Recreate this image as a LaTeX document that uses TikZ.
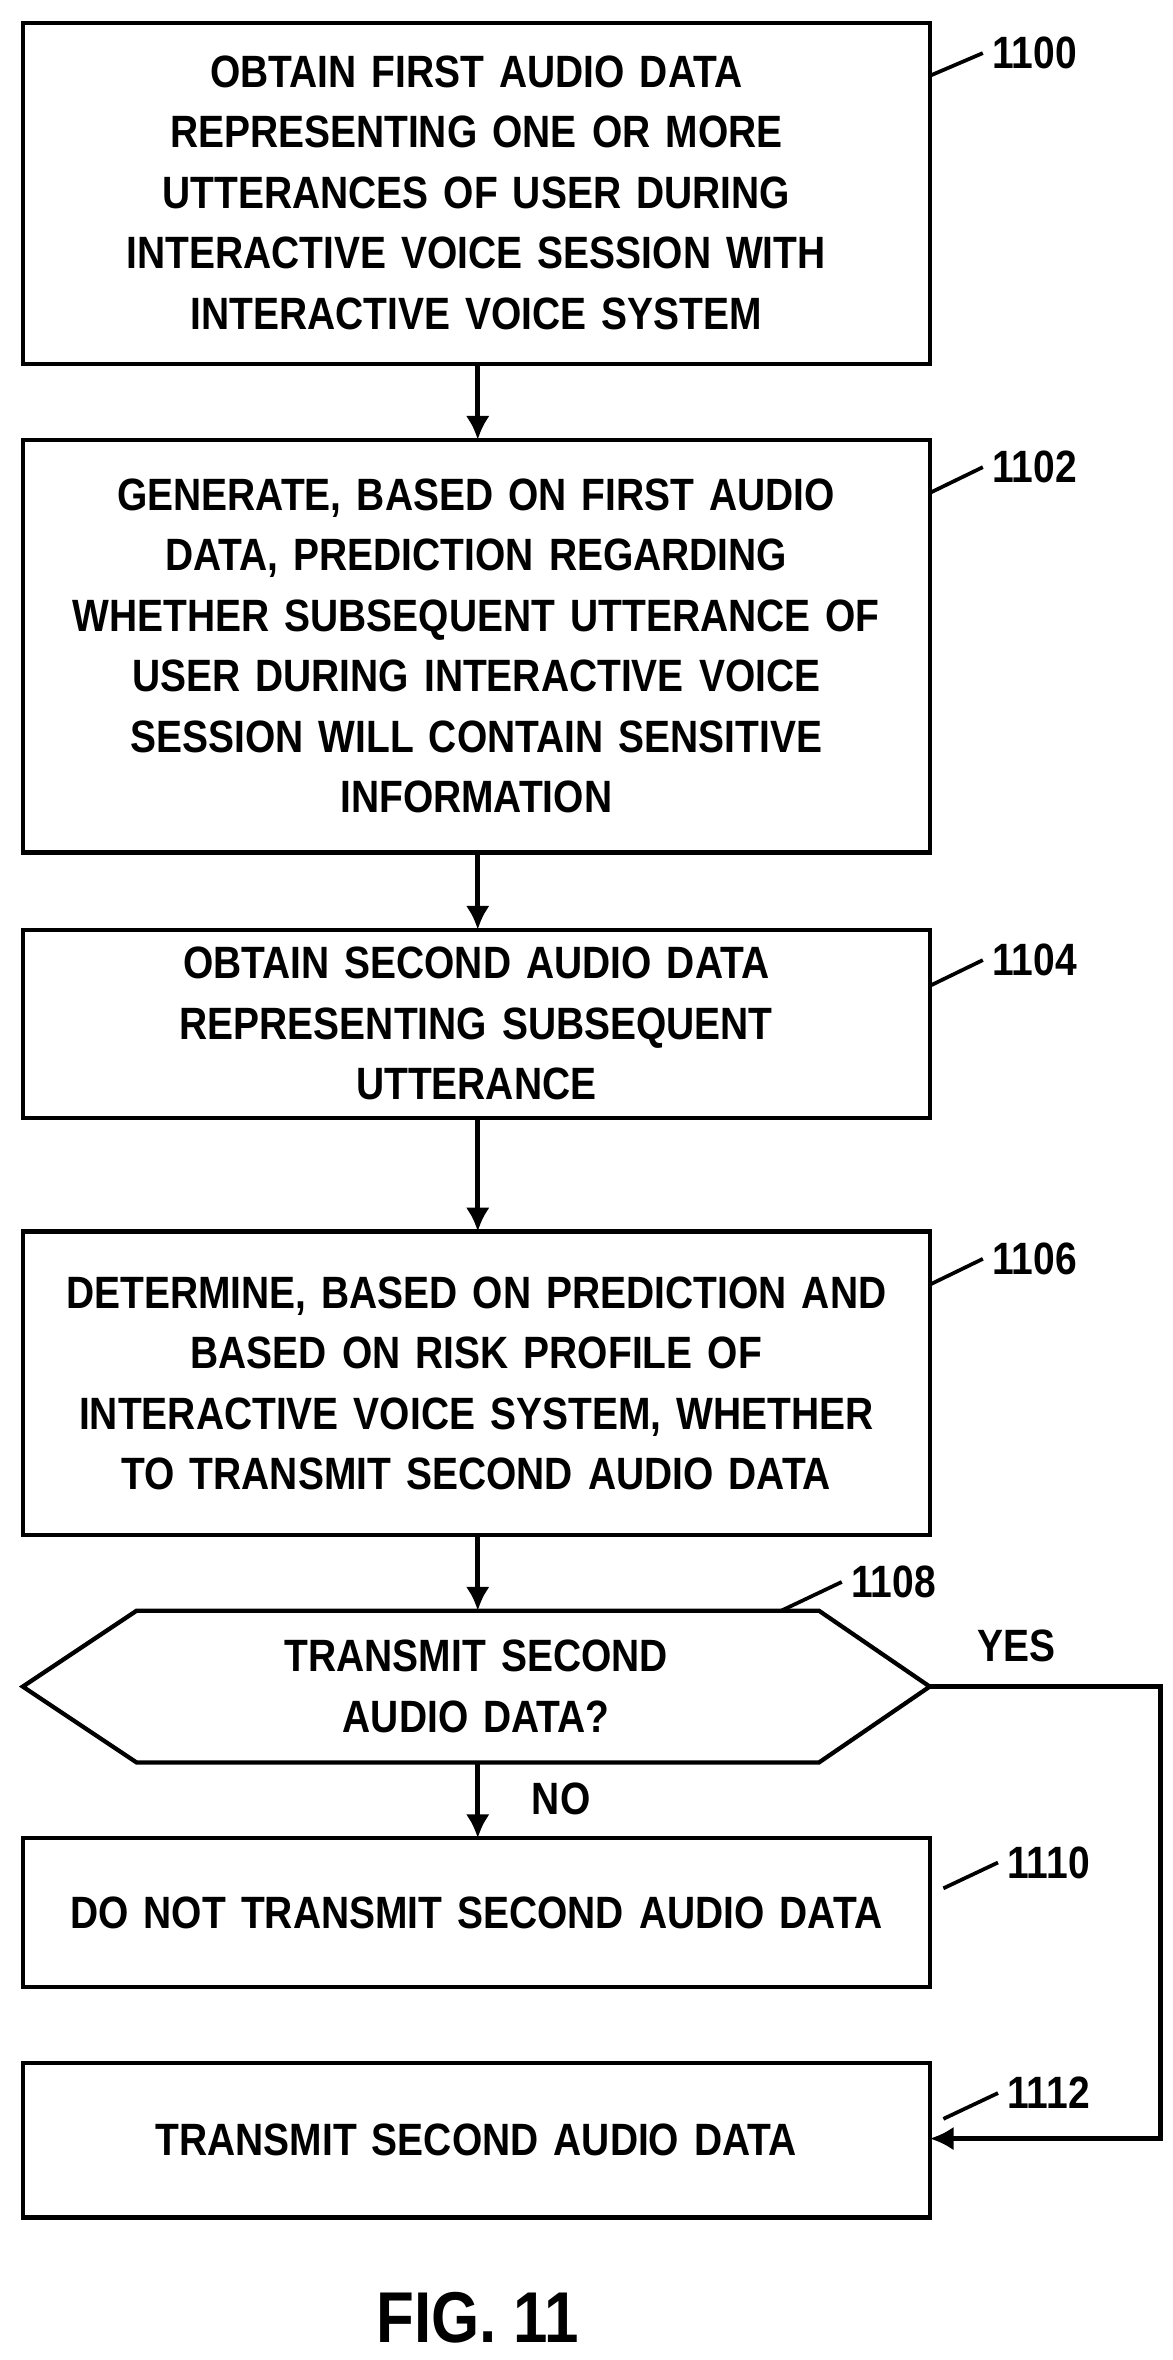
\documentclass[tikz,border=0pt]{standalone}
\usetikzlibrary{arrows.meta}
\usepackage{fontspec}
\setmainfont{Liberation Sans}[FakeStretch=0.86]
\begin{document}
\begin{tikzpicture}[x=0.02cm,y=-0.02cm,
  box/.style={draw,line width=1.6pt},
  txt/.style={font=\fontsize{17}{22.7}\selectfont\bfseries,align=center,text width=11.8cm},
  lab/.style={font=\fontsize{17}{20}\selectfont\bfseries},
  arr/.style={line width=1.8pt,-{Latex[length=9pt,width=9pt]}},
  lead/.style={line width=1.4pt}]
\useasboundingbox (0,0) rectangle (773,1556);
\draw[box] (15,15) rectangle (613,240); \node[txt] (b1) at (314,127) {OBTAIN FIRST AUDIO DATA\\REPRESENTING ONE OR MORE\\UTTERANCES OF USER DURING\\INTERACTIVE VOICE SESSION WITH\\INTERACTIVE VOICE SYSTEM};
\draw[box] (15,290) rectangle (613,562); \node[txt] (b2) at (314,426) {GENERATE, BASED ON FIRST AUDIO\\DATA, PREDICTION REGARDING\\WHETHER SUBSEQUENT UTTERANCE OF\\USER DURING INTERACTIVE VOICE\\SESSION WILL CONTAIN SENSITIVE\\INFORMATION};
\draw[box] (15,613) rectangle (613,737); \node[txt] (b3) at (314,675) {OBTAIN SECOND AUDIO DATA\\REPRESENTING SUBSEQUENT\\UTTERANCE};
\draw[box] (15,812) rectangle (613,1012); \node[txt] (b4) at (314,912) {DETERMINE, BASED ON PREDICTION AND\\BASED ON RISK PROFILE OF\\INTERACTIVE VOICE SYSTEM, WHETHER\\TO TRANSMIT SECOND AUDIO DATA};
\draw[box] (15,1112) -- (90,1062) -- (540,1062) -- (613,1112) -- (540,1162) -- (90,1162) -- cycle;
\node[txt] (d) at (314,1112) {TRANSMIT SECOND\\AUDIO DATA?};
\draw[box] (15,1212) rectangle (613,1310); \node[txt] (b5) at (314,1261) {DO NOT TRANSMIT SECOND AUDIO DATA};
\draw[box] (15,1360) rectangle (613,1462); \node[txt] (b6) at (314,1411) {TRANSMIT SECOND AUDIO DATA};
\coordinate (t1) at (315,240); \coordinate (t2) at (315,290);
\coordinate (t3) at (315,562); \coordinate (t4) at (315,613);
\coordinate (t5) at (315,737); \coordinate (t6) at (315,812);
\coordinate (t7) at (315,1012); \coordinate (t8) at (315,1062);
\coordinate (t9) at (315,1162); \coordinate (t10) at (315,1212);
\draw[arr] (t1)--(t2); \draw[arr] (t3)--(t4); \draw[arr] (t5)--(t6);
\draw[arr] (t7)--(t8); \draw[arr] (t9)--(t10);
\coordinate (dr) at (613,1112); \coordinate (c1) at (765,1112); \coordinate (c2) at (765,1410); \coordinate (b6r) at (613,1410);
\draw[arr] (dr)--(c1)--(c2)--(b6r);
\node[lab] (yes) at (670,1085) {YES};
\node[lab] (no) at (370,1186) {NO};
\node[lab,anchor=west] (l0) at (648,35) {1100}; \draw[lead] (613,50)--(l0.west);
\node[lab,anchor=west] (l2) at (648,308) {1102}; \draw[lead] (613,325)--(l2.west);
\node[lab,anchor=west] (l4) at (648,633) {1104}; \draw[lead] (613,650)--(l4.west);
\node[lab,anchor=west] (l6) at (648,830) {1106}; \draw[lead] (613,847)--(l6.west);
\node[lab,anchor=west] (l8) at (555,1043) {1108}; \draw[lead] (515,1062)--(l8.west);
\node[lab,anchor=west] (l10) at (658,1228) {1110}; \draw[lead] (622,1245)--(l10.west);
\node[lab,anchor=west] (l12) at (658,1380) {1112}; \draw[lead] (622,1397)--(l12.west);
\node[font=\fontsize{27}{30}\selectfont\bfseries] (fig) at (315,1528) {FIG. 11};
\end{tikzpicture}
\end{document}
